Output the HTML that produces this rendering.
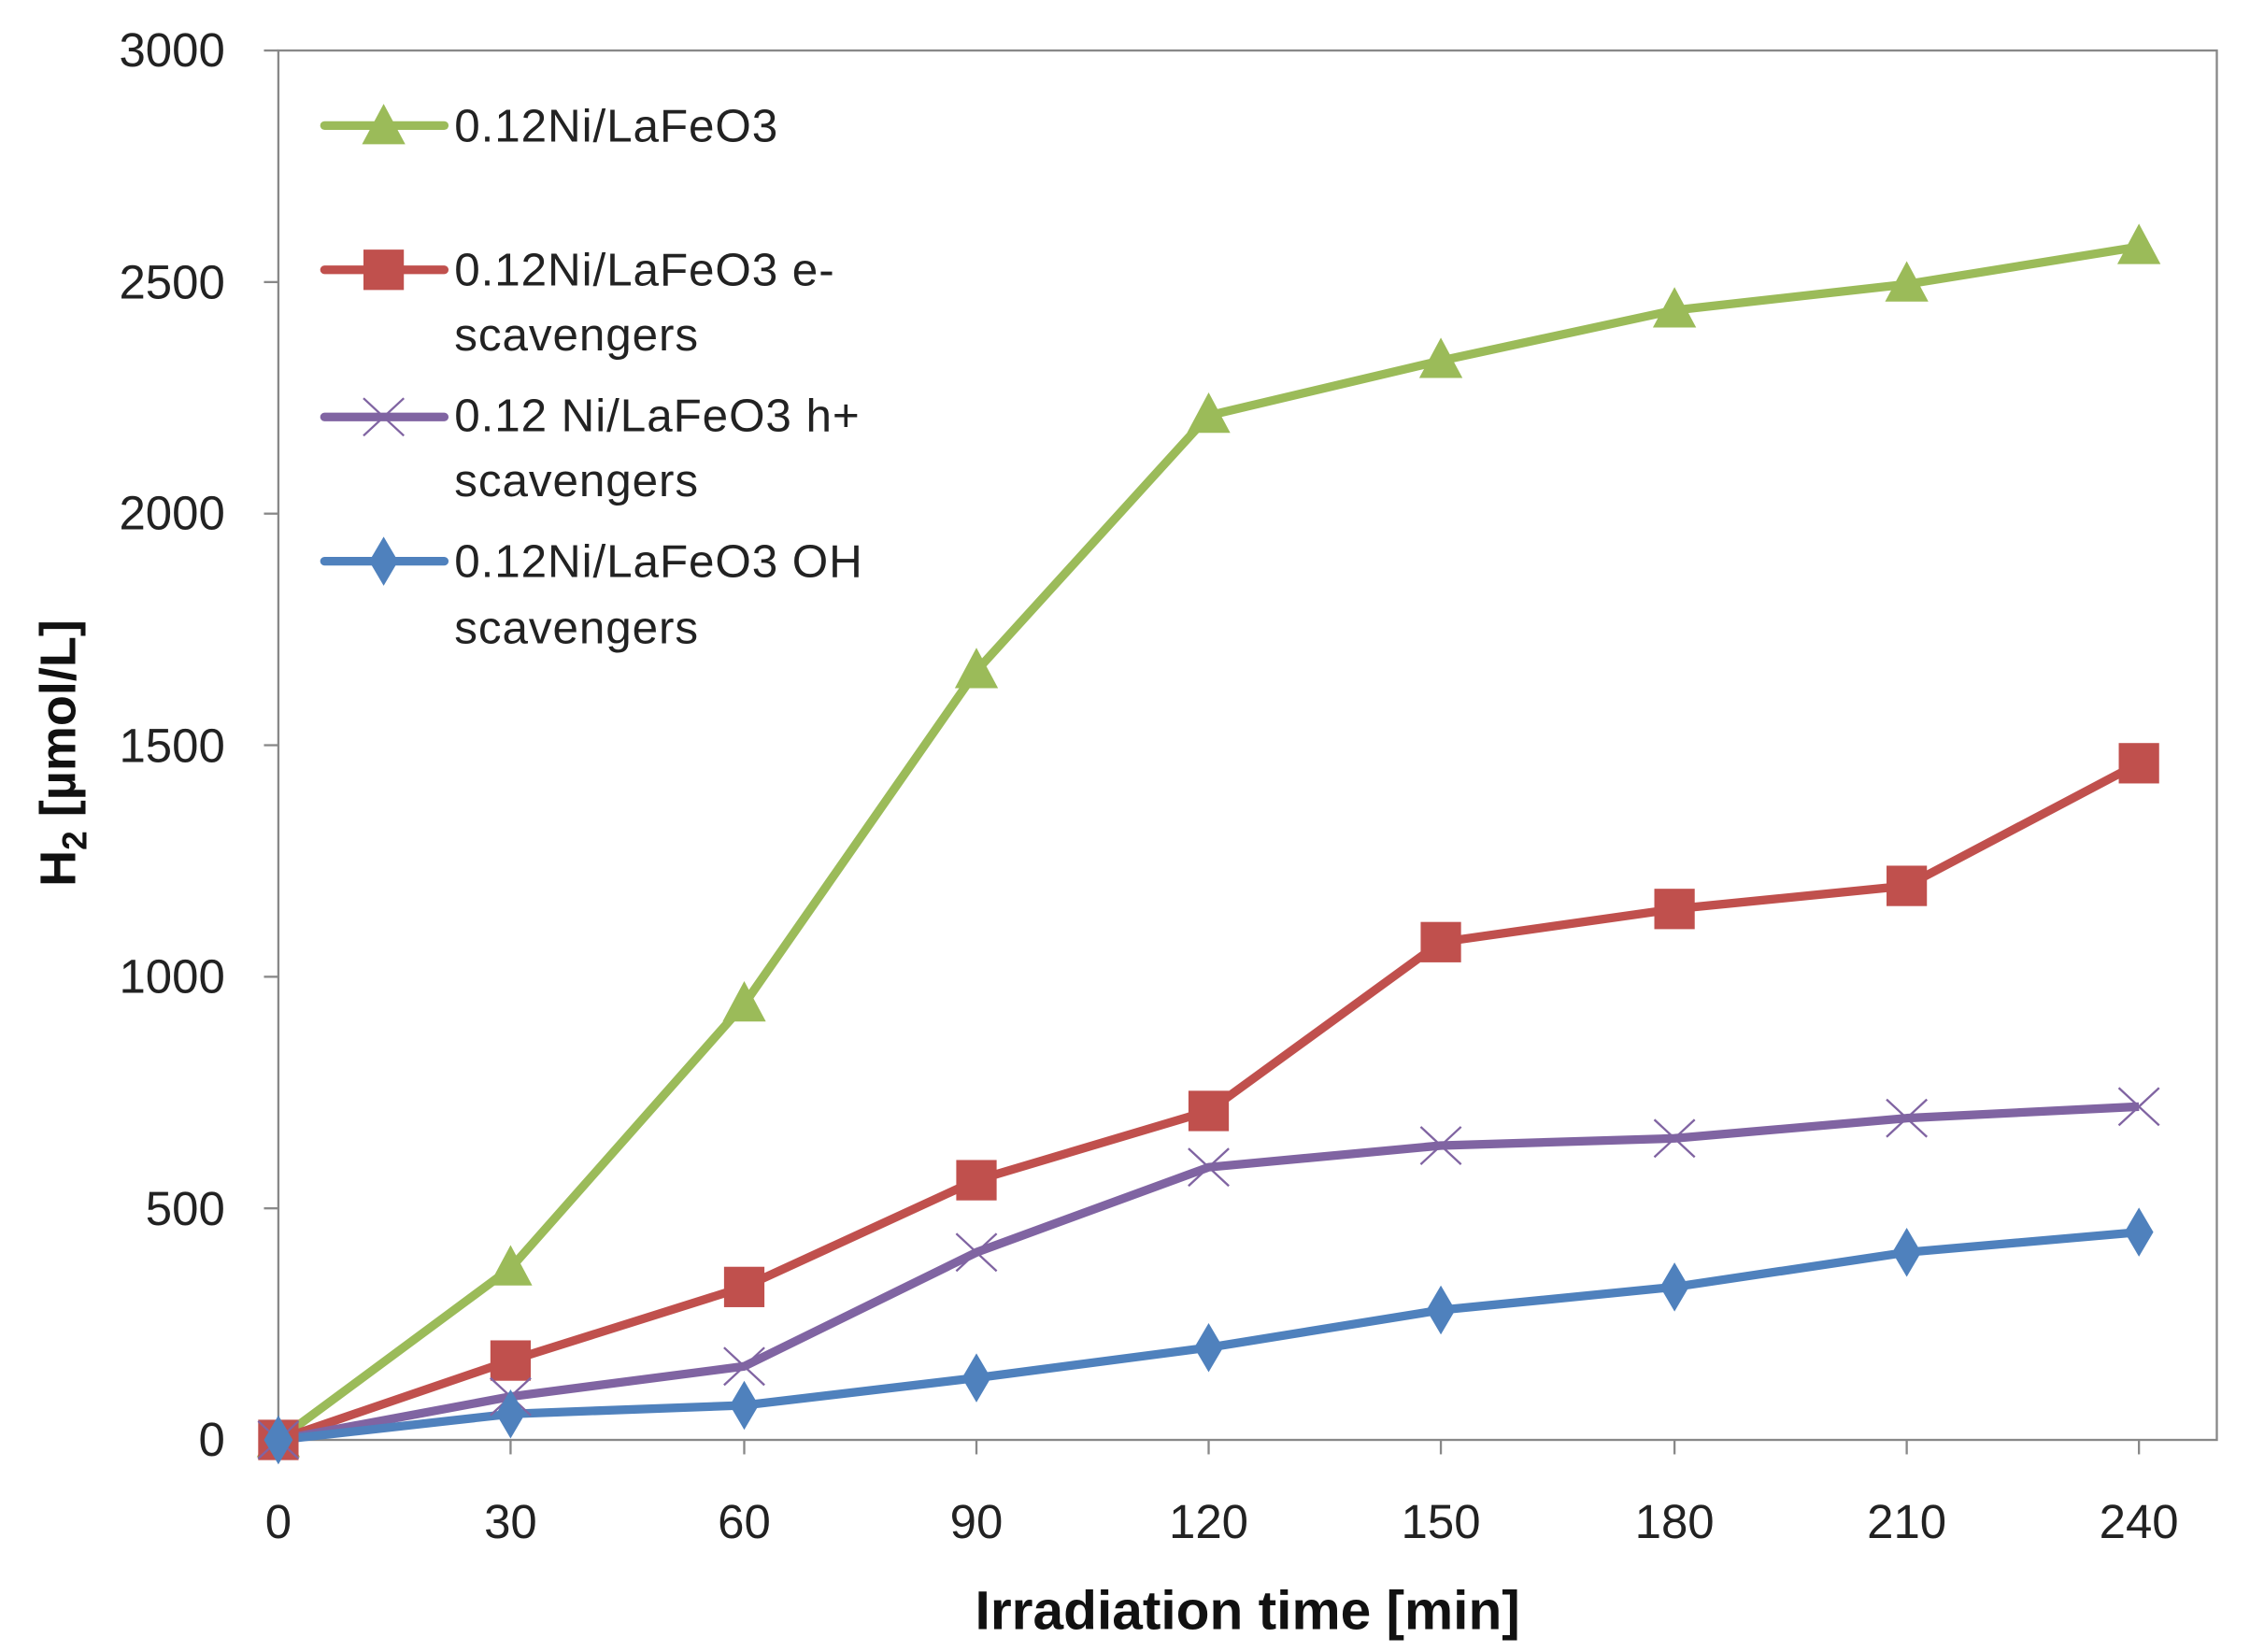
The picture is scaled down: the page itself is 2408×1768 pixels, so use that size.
<!DOCTYPE html>
<html><head><style>html,body{margin:0;padding:0;background:#fff}svg{display:block}</style></head><body>
<svg width="2408" height="1768" viewBox="0 0 1560 1145" preserveAspectRatio="none" xmlns="http://www.w3.org/2000/svg" font-family="Liberation Sans, sans-serif">
<defs>
<path id="tri" d="M0,-16 L15,12 L-15,12 Z" fill="#9BBB59"/>
<rect id="sq" x="-14" y="-14" width="28" height="28" fill="#C0504D"/>
<path id="dia" d="M0,-17 L10,0 L0,17 L-10,0 Z" fill="#4F81BD"/>
<g id="xx" stroke="#8064A2" stroke-width="1.5"><line x1="-14" y1="-13" x2="14" y2="13"/><line x1="-14" y1="13" x2="14" y2="-13"/></g>
</defs>
<rect x="193" y="35" width="1344" height="963" fill="none" stroke="#888" stroke-width="1.5"/>
<g stroke="#888" stroke-width="1.5">
<line x1="183" y1="35" x2="193" y2="35"/><line x1="183" y1="195.5" x2="193" y2="195.5"/><line x1="183" y1="356" x2="193" y2="356"/><line x1="183" y1="516.5" x2="193" y2="516.5"/><line x1="183" y1="677" x2="193" y2="677"/><line x1="183" y1="837.5" x2="193" y2="837.5"/><line x1="183" y1="998" x2="193" y2="998"/>
<line x1="193" y1="998" x2="193" y2="1008"/><line x1="354" y1="998" x2="354" y2="1008"/><line x1="516" y1="998" x2="516" y2="1008"/><line x1="677" y1="998" x2="677" y2="1008"/><line x1="838" y1="998" x2="838" y2="1008"/><line x1="999" y1="998" x2="999" y2="1008"/><line x1="1161" y1="998" x2="1161" y2="1008"/><line x1="1322" y1="998" x2="1322" y2="1008"/><line x1="1483" y1="998" x2="1483" y2="1008"/>
</g>
<g font-size="33" fill="#222" text-anchor="end">
<text x="156" y="46">3000</text><text x="156" y="207">2500</text><text x="156" y="367">2000</text><text x="156" y="528">1500</text><text x="156" y="688">1000</text><text x="156" y="849">500</text><text x="156" y="1009">0</text>
</g>
<g font-size="33" fill="#222" text-anchor="middle">
<text x="193" y="1066">0</text><text x="354" y="1066">30</text><text x="516" y="1066">60</text><text x="677" y="1066">90</text><text x="838" y="1066">120</text><text x="999" y="1066">150</text><text x="1161" y="1066">180</text><text x="1322" y="1066">210</text><text x="1483" y="1066">240</text>
</g>
<text x="865" y="1129" font-size="38" font-weight="bold" text-anchor="middle" fill="#111">Irradiation time [min]</text>
<text transform="translate(52,522) rotate(-90)" font-size="35" font-weight="bold" text-anchor="middle" fill="#111">H<tspan font-size="24" dy="8">2</tspan><tspan dy="-8"> [µmol/L]</tspan></text>
<polyline fill="none" stroke="#9BBB59" stroke-width="6" stroke-linejoin="round" points="193,998 354,879 516,696 677,465 838,288 999,250 1161,215 1322,197 1483,171"/>
<polyline fill="none" stroke="#C0504D" stroke-width="6" stroke-linejoin="round" points="193,998 354,943 516,892 677,818 838,770 999,653 1161,630 1322,614 1483,529"/>
<polyline fill="none" stroke="#8064A2" stroke-width="6" stroke-linejoin="round" points="193,998 354,968 516,947 677,868 838,809 999,794 1161,789 1322,775 1483,767"/>
<polyline fill="none" stroke="#4F81BD" stroke-width="6" stroke-linejoin="round" points="193,998 354,980 516,974 677,955 838,934 999,908 1161,892 1322,868 1483,854"/>
<g>
<use href="#tri" x="193" y="998"/><use href="#tri" x="354" y="879"/><use href="#tri" x="516" y="696"/><use href="#tri" x="677" y="465"/><use href="#tri" x="838" y="288"/><use href="#tri" x="999" y="250"/><use href="#tri" x="1161" y="215"/><use href="#tri" x="1322" y="197"/><use href="#tri" x="1483" y="171"/>
<use href="#sq" x="193" y="998"/><use href="#sq" x="354" y="943"/><use href="#sq" x="516" y="892"/><use href="#sq" x="677" y="818"/><use href="#sq" x="838" y="770"/><use href="#sq" x="999" y="653"/><use href="#sq" x="1161" y="630"/><use href="#sq" x="1322" y="614"/><use href="#sq" x="1483" y="529"/>
<use href="#xx" x="193" y="998"/><use href="#xx" x="354" y="968"/><use href="#xx" x="516" y="947"/><use href="#xx" x="677" y="868"/><use href="#xx" x="838" y="809"/><use href="#xx" x="999" y="794"/><use href="#xx" x="1161" y="789"/><use href="#xx" x="1322" y="775"/><use href="#xx" x="1483" y="767"/>
<use href="#dia" x="193" y="998"/><use href="#dia" x="354" y="980"/><use href="#dia" x="516" y="974"/><use href="#dia" x="677" y="955"/><use href="#dia" x="838" y="934"/><use href="#dia" x="999" y="908"/><use href="#dia" x="1161" y="892"/><use href="#dia" x="1322" y="868"/><use href="#dia" x="1483" y="854"/>
</g>
<g stroke-width="6" stroke-linecap="round">
<line x1="225" y1="87" x2="308" y2="87" stroke="#9BBB59"/>
<line x1="225" y1="187" x2="308" y2="187" stroke="#C0504D"/>
<line x1="225" y1="289" x2="308" y2="289" stroke="#8064A2"/>
<line x1="225" y1="389" x2="308" y2="389" stroke="#4F81BD"/>
</g>
<use href="#tri" x="266" y="88"/><use href="#sq" x="266" y="187"/><use href="#xx" x="266" y="289"/><use href="#dia" x="266" y="389"/>
<g font-size="32" fill="#222" letter-spacing="0.6">
<text x="315" y="98">0.12Ni/LaFeO3</text>
<text x="315" y="198">0.12Ni/LaFeO3 e-</text>
<text x="315" y="243">scavengers</text>
<text x="315" y="299">0.12 Ni/LaFeO3 h+</text>
<text x="315" y="344">scavengers</text>
<text x="315" y="400">0.12Ni/LaFeO3 OH</text>
<text x="315" y="446">scavengers</text>
</g>
</svg>
</body></html>
